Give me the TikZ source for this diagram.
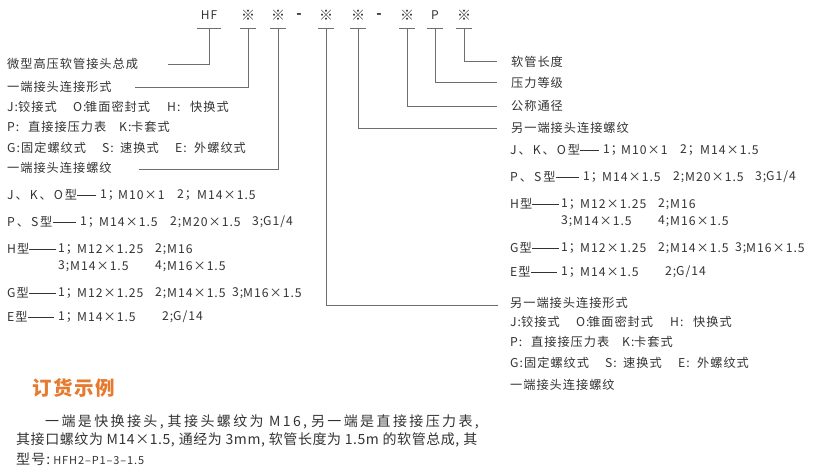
\documentclass[tikz,border=0pt]{standalone}
\usepackage{fontspec}
\setmainfont{Noto Sans CJK SC}[LetterSpace=8]
\usetikzlibrary{calc}
\definecolor{txt}{HTML}{333333}
\definecolor{ln}{HTML}{6E6E6E}
\definecolor{org}{HTML}{E67A2E}
\newcommand\formrows[2]{%
\begin{scope}[shift={#2}]
\node[lbl] (#1ja) at (0,0) {J:};
\node[lbl] (#1jb) at (11,0) {铰接式};
\node[lbl] (#1jc) at (66,0) {O:};
\node[lbl] (#1jd) at (78,0) {锥面密封式};
\node[lbl] (#1je) at (160,0) {H:};
\node[lbl] (#1jf) at (183,0) {快换式};
\node[lbl] (#1pa) at (0,20) {P:};
\node[lbl] (#1pb) at (21,20) {直接接压力表};
\node[lbl] (#1pc) at (112,20) {K:};
\node[lbl] (#1pd) at (124,20) {卡套式};
\node[lbl] (#1ga) at (0,41) {G:};
\node[lbl] (#1gb) at (14,41) {固定螺纹式};
\node[lbl] (#1gc) at (95,41) {S:};
\node[lbl] (#1gd) at (113,41) {速换式};
\node[lbl] (#1ge) at (168,41) {E:};
\node[lbl] (#1gf) at (187,41) {外螺纹式};
\end{scope}}
\newcommand\typerows[2]{%
\begin{scope}[shift={#2}]
\node[lbl,wide] (#1aa) at (0,0) {J、K、O型};
\draw[dashln] (#1aa.east) -- (#1aa.east -| 89,0);
\node[lbl] (#1ac) at (93,0) {1；};
\node[lbl] (#1ad) at (111,0) {M10×1};
\node[lbl] (#1ae) at (170,0) {2；};
\node[lbl] (#1af) at (190,0) {M14×1.5};
\node[lbl,wide] (#1ba) at (0,27) {P、S型};
\draw[dashln] (#1ba.east) -- (#1ba.east -| 69,0);
\node[lbl] (#1bc) at (73,27) {1；};
\node[lbl] (#1bd) at (92,27) {M14×1.5};
\node[lbl] (#1be) at (163,27) {2;};
\node[lbl] (#1bf) at (175,27) {M20×1.5};
\node[lbl] (#1bg) at (245,27) {3;};
\node[lbl] (#1bh) at (256,27) {G1/4};
\node[lbl] (#1ca) at (0,54) {H型};
\draw[dashln] (#1ca.east) -- (#1ca.east -| 49,0);
\node[lbl] (#1cc) at (51,54) {1；};
\node[lbl] (#1cd) at (70,54) {M12×1.25};
\node[lbl] (#1ce) at (148,54) {2;};
\node[lbl] (#1cf) at (160,54) {M16};
\node[lbl] (#1cg) at (51,71) {3;};
\node[lbl] (#1ch) at (63,71) {M14×1.5};
\node[lbl] (#1ci) at (148,71) {4;};
\node[lbl] (#1cj) at (160,71) {M16×1.5};
\node[lbl] (#1da) at (0,98) {G型};
\draw[dashln] (#1da.east) -- (#1da.east -| 49,0);
\node[lbl] (#1dc) at (51,98) {1；};
\node[lbl] (#1dd) at (70,98) {M12×1.25};
\node[lbl] (#1de) at (148,98) {2;};
\node[lbl] (#1df) at (160,98) {M14×1.5};
\node[lbl] (#1dg) at (225,98) {3;};
\node[lbl] (#1dh) at (236,98) {M16×1.5};
\node[lbl] (#1ea) at (0,122) {E型};
\draw[dashln] (#1ea.east) -- (#1ea.east -| 47,0);
\node[lbl] (#1ec) at (51,122) {1；};
\node[lbl] (#1ed) at (70,122) {M14×1.5};
\node[lbl] (#1ee) at (155,122) {2;};
\node[lbl] (#1ef) at (166,122) {G/14};
\end{scope}}
\begin{document}
\begin{tikzpicture}[x=1pt,y=-1pt,
  lbl/.style={anchor=west,inner sep=0pt,text=txt,font=\fontsize{12.2}{13}\selectfont},
  wide/.style={font=\fontsize{12.2}{13}\selectfont\addfontfeatures{LetterSpace=16}},
  para/.style={anchor=west,inner sep=0pt,text=txt,font=\fontsize{14}{15}\selectfont},
  sym/.style={inner sep=0pt,text=txt,font=\fontsize{12}{12}\selectfont},
  bigsym/.style={inner sep=0pt,text=txt,font=\fontsize{14}{14}\selectfont},
  conn/.style={draw=ln,line width=0.9pt},
  dashln/.style={draw=txt,line width=0.7pt},
  title/.style={anchor=west,inner sep=0pt,text=org,font=\fontsize{19.5}{20}\selectfont\bfseries}]
\useasboundingbox (0,0) rectangle (815,469);
% header symbols
\node[sym] (hf) at (209,15) {HF};
\node[bigsym] (s1) at (248,15) {※};
\node[bigsym] (s2) at (278,15) {※};
\node[bigsym,font=\fontsize{14}{14}\selectfont\bfseries] (d1) at (299,16) {-};
\node[bigsym] (s3) at (326,15) {※};
\node[bigsym] (s4) at (358,15) {※};
\node[bigsym,font=\fontsize{14}{14}\selectfont\bfseries] (d2) at (379,16) {-};
\node[bigsym] (s5) at (407,15) {※};
\node[sym] (pp) at (435,15) {P};
\node[bigsym] (s6) at (464,15) {※};
% bar centres
\coordinate (bhf) at (209,28);
\coordinate (b1) at (248,28);
\coordinate (b2) at (278,28);
\coordinate (b3) at (326,28);
\coordinate (b4) at (358,28);
\coordinate (b5) at (407,28);
\coordinate (bp) at (435,28);
\coordinate (b6) at (464,28);
\draw[conn] ($(bhf)+(-12,0)$) -- ($(bhf)+(12,0)$);
\foreach \b in {b1,b2,b3,b4,b5,bp,b6}
  \draw[conn] ($(\b)+(-8,0)$) -- ($(\b)+(8,0)$);
% connector ends
\coordinate (ehf) at (168,64);
\coordinate (e1) at (135,87);
\coordinate (e2) at (139,169);
\coordinate (e3) at (498,305);
\coordinate (e4) at (497,128);
\coordinate (e5) at (497,106);
\coordinate (ep) at (497,82);
\coordinate (e6) at (497,61);
\draw[conn] (bhf) |- (ehf);
\draw[conn] (b1) |- (e1);
\draw[conn] (b2) |- (e2);
\draw[conn] (b3) |- (e3);
\draw[conn] (b4) |- (e4);
\draw[conn] (b5) |- (e5);
\draw[conn] (bp) |- (ep);
\draw[conn] (b6) |- (e6);
% left labels
\node[lbl] (l0) at (7,64) {微型高压软管接头总成};
\node[lbl] (l1) at (7,87) {一端接头连接形式};
\formrows{lf}{(7,107)}
\node[lbl] (l2) at (7,168) {一端接头连接螺纹};
\typerows{lt}{(7,195)}
% right labels
\node[lbl] (r6) at (511,62) {软管长度};
\node[lbl] (rp) at (511,83) {压力等级};
\node[lbl] (r5) at (511,106) {公称通径};
\node[lbl] (r4) at (511,128) {另一端接头连接螺纹};
\typerows{rt}{(510,150)}
\node[lbl] (r3) at (510,303) {另一端接头连接形式};
\formrows{rf}{(510,322)}
\node[lbl] (r3d) at (510,385) {一端接头连接螺纹};
% order example
\node[title] (t) at (32,388) {订货示例};
\node[para,font=\fontsize{14}{15}\selectfont\addfontfeatures{LetterSpace=17}] (p1) at (45,422) {一端是快换接头,\hspace{4pt}其接头螺纹为 M16,\hspace{4pt}另一端是直接接压力表,};
\node[para,font=\fontsize{14}{15}\selectfont\addfontfeatures{LetterSpace=4}] (p2) at (16,440) {其接口螺纹为 M14×1.5,\hspace{4pt}通经为 3mm,\hspace{4pt}软管长度为 1.5m 的软管总成,\hspace{4pt}其};
\node[para] (p3) at (16,459) {型号:\hspace{3pt}{\fontsize{11}{12}\selectfont HFH2–P1–3–1.5}};
\end{tikzpicture}
\end{document}
